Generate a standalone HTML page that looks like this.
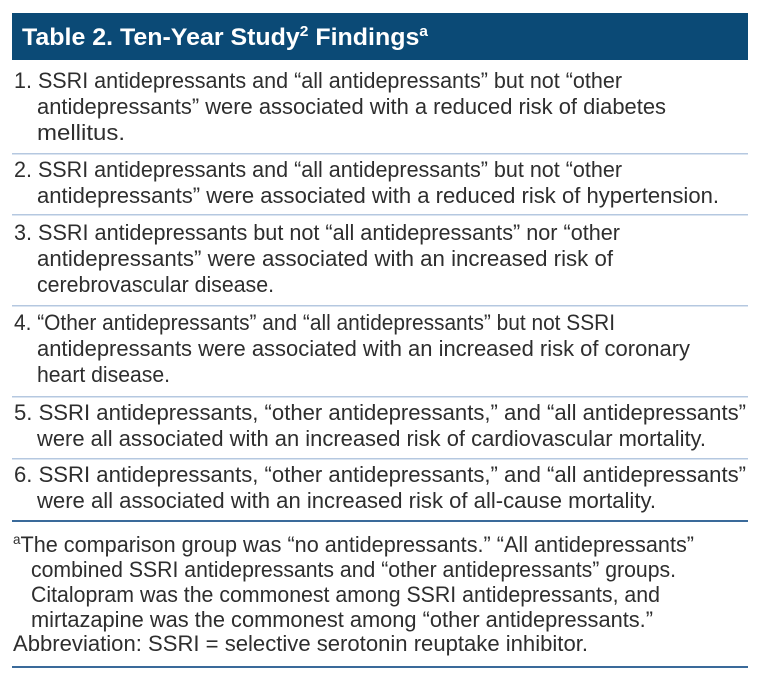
<!DOCTYPE html>
<html><head><meta charset="utf-8"><style>
html,body{margin:0;padding:0;background:#fff;}
svg{display:block;}
text{font-family:"Liberation Sans",sans-serif;font-size:22.5px;fill:#2e2e2e;}
</style></head><body>
<svg width="768" height="680" viewBox="0 0 768 680" xmlns="http://www.w3.org/2000/svg">
<rect x="12" y="13" width="736" height="47" fill="#0b4a76"/>
<text x="22" y="45" style="fill:#fff;font-size:24px;font-weight:bold" textLength="406" lengthAdjust="spacingAndGlyphs">Table 2. Ten-Year Study<tspan dy="-9" style="font-size:15px">2</tspan><tspan dy="9"> Findings</tspan><tspan dy="-9" style="font-size:15px">a</tspan></text>

<text x="14" y="88" textLength="608" lengthAdjust="spacingAndGlyphs">1. SSRI antidepressants and “all antidepressants” but not “other</text>
<text x="37" y="114" textLength="629" lengthAdjust="spacingAndGlyphs">antidepressants” were associated with a reduced risk of diabetes</text>
<text x="37" y="140" textLength="88" lengthAdjust="spacingAndGlyphs">mellitus.</text>
<rect x="12" y="153" width="736" height="1.5" fill="#b5c8e0"/>

<text x="14" y="177" textLength="608" lengthAdjust="spacingAndGlyphs">2. SSRI antidepressants and “all antidepressants” but not “other</text>
<text x="37" y="203" textLength="682" lengthAdjust="spacingAndGlyphs">antidepressants” were associated with a reduced risk of hypertension.</text>
<rect x="12" y="214" width="736" height="1.5" fill="#b5c8e0"/>

<text x="14" y="240" textLength="606" lengthAdjust="spacingAndGlyphs">3. SSRI antidepressants but not “all antidepressants” nor “other</text>
<text x="37" y="266" textLength="576" lengthAdjust="spacingAndGlyphs">antidepressants” were associated with an increased risk of</text>
<text x="37" y="292" textLength="237" lengthAdjust="spacingAndGlyphs">cerebrovascular disease.</text>
<rect x="12" y="305" width="736" height="1.5" fill="#b5c8e0"/>

<text x="14" y="330" textLength="601" lengthAdjust="spacingAndGlyphs">4. “Other antidepressants” and “all antidepressants” but not SSRI</text>
<text x="37" y="356" textLength="653" lengthAdjust="spacingAndGlyphs">antidepressants were associated with an increased risk of coronary</text>
<text x="37" y="382" textLength="133" lengthAdjust="spacingAndGlyphs">heart disease.</text>
<rect x="12" y="396" width="736" height="1.5" fill="#b5c8e0"/>

<text x="14" y="420" textLength="732" lengthAdjust="spacingAndGlyphs">5. SSRI antidepressants, “other antidepressants,” and “all antidepressants”</text>
<text x="37" y="446" textLength="669" lengthAdjust="spacingAndGlyphs">were all associated with an increased risk of cardiovascular mortality.</text>
<rect x="12" y="458" width="736" height="1.5" fill="#b5c8e0"/>

<text x="14" y="482" textLength="732" lengthAdjust="spacingAndGlyphs">6. SSRI antidepressants, “other antidepressants,” and “all antidepressants”</text>
<text x="37" y="508" textLength="619" lengthAdjust="spacingAndGlyphs">were all associated with an increased risk of all-cause mortality.</text>
<rect x="12" y="520" width="736" height="2" fill="#3a6a9a"/>

<text x="13" y="552" textLength="681" lengthAdjust="spacingAndGlyphs"><tspan dy="-8" style="font-size:14px">a</tspan><tspan dy="8">The comparison group was “no antidepressants.” “All antidepressants”</tspan></text>
<text x="31" y="577" textLength="645" lengthAdjust="spacingAndGlyphs">combined SSRI antidepressants and “other antidepressants” groups.</text>
<text x="31" y="602" textLength="629" lengthAdjust="spacingAndGlyphs">Citalopram was the commonest among SSRI antidepressants, and</text>
<text x="31" y="627" textLength="622" lengthAdjust="spacingAndGlyphs">mirtazapine was the commonest among “other antidepressants.”</text>
<text x="13" y="651" textLength="575" lengthAdjust="spacingAndGlyphs">Abbreviation: SSRI = selective serotonin reuptake inhibitor.</text>
<rect x="12" y="666" width="736" height="2" fill="#3a6a9a"/>
</svg>
</body></html>
